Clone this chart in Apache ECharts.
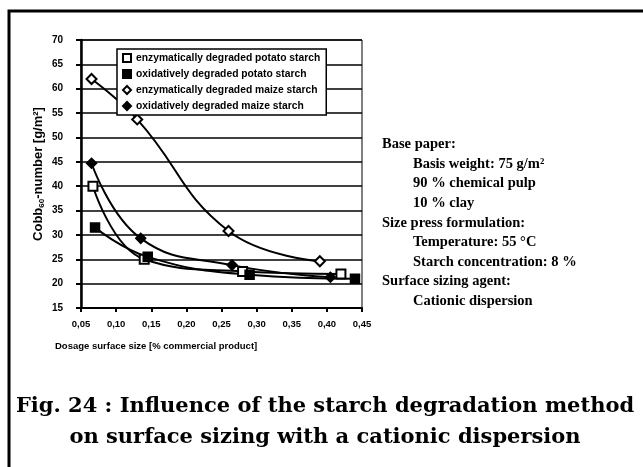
<!DOCTYPE html>
<html>
<head>
<meta charset="utf-8">
<script src="https://cdn.jsdelivr.net/npm/echarts@6/dist/echarts.min.js"></script>
<style>
  html, body { margin: 0; padding: 0; background: #fff; }
  #chart { width: 643px; height: 467px; }
</style>
</head>
<body>
<div id="chart"></div>
<script>
// values
var seriesNames = [
  'enzymatically degraded potato starch',
  'oxidatively degraded potato starch',
  'enzymatically degraded maize starch',
  'oxidatively degraded maize starch'
];
var enzPotatoX = [0.067, 0.14, 0.28, 0.42];
var enzPotatoY = [40, 25, 22.5, 22];
var oxPotatoX = [0.07, 0.145, 0.29, 0.44];
var oxPotatoY = [31.5, 25.5, 21.8, 21];
var enzMaizeX = [0.065, 0.13, 0.26, 0.39];
var enzMaizeY = [62, 53.7, 30.8, 24.6];
var oxMaizeX = [0.065, 0.135, 0.265, 0.405];
var oxMaizeY = [44.7, 29.3, 23.8, 21.3];
var symbols = ['emptyRect', 'rect', 'emptyDiamond', 'diamond'];

var infoLines = [
  {text: 'Base paper:', indent: 0},
  {text: 'Basis weight: 75 g/m²', indent: 1},
  {text: '90 % chemical pulp', indent: 1},
  {text: '10 % clay', indent: 1},
  {text: 'Size press formulation:', indent: 0},
  {text: 'Temperature: 55 °C', indent: 1},
  {text: 'Starch concentration: 8 %', indent: 1},
  {text: 'Surface sizing agent:', indent: 0},
  {text: 'Cationic dispersion', indent: 1}
];
var captionLines = [
  'Fig. 24 : Influence of the starch degradation method',
  'on surface sizing with a cationic dispersion'
];

function pairs(xs, ys) {
  return xs.map(function (x, i) { return [x, ys[i]]; });
}
var allData = [
  pairs(enzPotatoX, enzPotatoY),
  pairs(oxPotatoX, oxPotatoY),
  pairs(enzMaizeX, enzMaizeY),
  pairs(oxMaizeX, oxMaizeY)
];

var chart = echarts.init(document.getElementById('chart'));

var graphics = [{
  type: 'rect',
  shape: {x: 9, y: 11, width: 640, height: 462},
  style: {fill: 'none', stroke: '#000', lineWidth: 3},
  silent: true
}, {
  type: 'text',
  left: 55, top: 341,
  style: {
    text: 'Dosage surface size [% commercial product]',
    font: 'bold 9.5px Arial', fill: '#000'
  }
}];

infoLines.forEach(function (l, i) {
  graphics.push({
    type: 'text',
    left: l.indent ? 413 : 382,
    top: 137 + i * 19.6,
    style: {text: l.text, font: 'bold 14.5px "Liberation Serif"', fill: '#000'}
  });
});
captionLines.forEach(function (t, i) {
  graphics.push({
    type: 'text',
    x: 325, y: 407 + i * 31,
    style: {
      text: t, font: 'bold 21px "DejaVu Serif"', fill: '#000',
      align: 'center', verticalAlign: 'middle'
    }
  });
});

chart.setOption({
  backgroundColor: '#fff',
  animation: false,
  grid: {left: 81, right: 281, top: 40, bottom: 159, show: true, borderColor: '#000', borderWidth: 1},
  legend: {
    orient: 'vertical',
    left: 117, top: 49,
    itemWidth: 8, itemHeight: 8, itemGap: 6,
    padding: [4, 6, 4, 5],
    backgroundColor: '#fff',
    borderColor: '#000', borderWidth: 1.5,
    textStyle: {fontFamily: 'Arial', fontWeight: 'bold', fontSize: 10.3, color: '#000'},
    data: seriesNames.map(function (n, i) {
      return {name: n, icon: symbols[i]};
    })
  },
  xAxis: {
    type: 'value', min: 0.05, max: 0.45, interval: 0.05,
    axisLine: {lineStyle: {color: '#000', width: 2}},
    axisTick: {show: true, length: 4, lineStyle: {color: '#000', width: 2}},
    splitLine: {show: false},
    axisLabel: {
      margin: 11, color: '#000', fontFamily: 'Arial', fontWeight: 'bold', fontSize: 9.5,
      formatter: function (v) { return v.toFixed(2).replace('.', ','); }
    }
  },
  yAxis: {
    type: 'value', min: 15, max: 70, interval: 5,
    name: '{n|Cobb}{s|60}{n|-number [g/m²]}',
    nameLocation: 'middle', nameGap: 35, nameRotate: 90,
    nameTextStyle: {
      rich: {
        n: {fontFamily: 'Arial', fontWeight: 'bold', fontSize: 13, color: '#000'},
        s: {fontFamily: 'Arial', fontWeight: 'bold', fontSize: 8, color: '#000', verticalAlign: 'bottom', padding: [7, 0, 0, 0]}
      }
    },
    axisLine: {show: true, lineStyle: {color: '#000', width: 2.5}},
    axisTick: {show: true, length: 5, lineStyle: {color: '#000', width: 2}},
    splitLine: {lineStyle: {color: '#000', width: 1.5}},
    axisLabel: {margin: 18, color: '#000', fontFamily: 'Arial', fontWeight: 'bold', fontSize: 10}
  },
  series: allData.map(function (d, i) {
    return {
      name: seriesNames[i],
      type: 'line',
      data: d,
      smooth: 0.45,
      symbol: symbols[i],
      symbolSize: i >= 2 ? 10 : 9,
      lineStyle: {color: '#000', width: 2},
      itemStyle: {color: '#000', borderColor: '#000', borderWidth: 1.5}
    };
  }),
  graphic: graphics
});
</script>
</body>
</html>
